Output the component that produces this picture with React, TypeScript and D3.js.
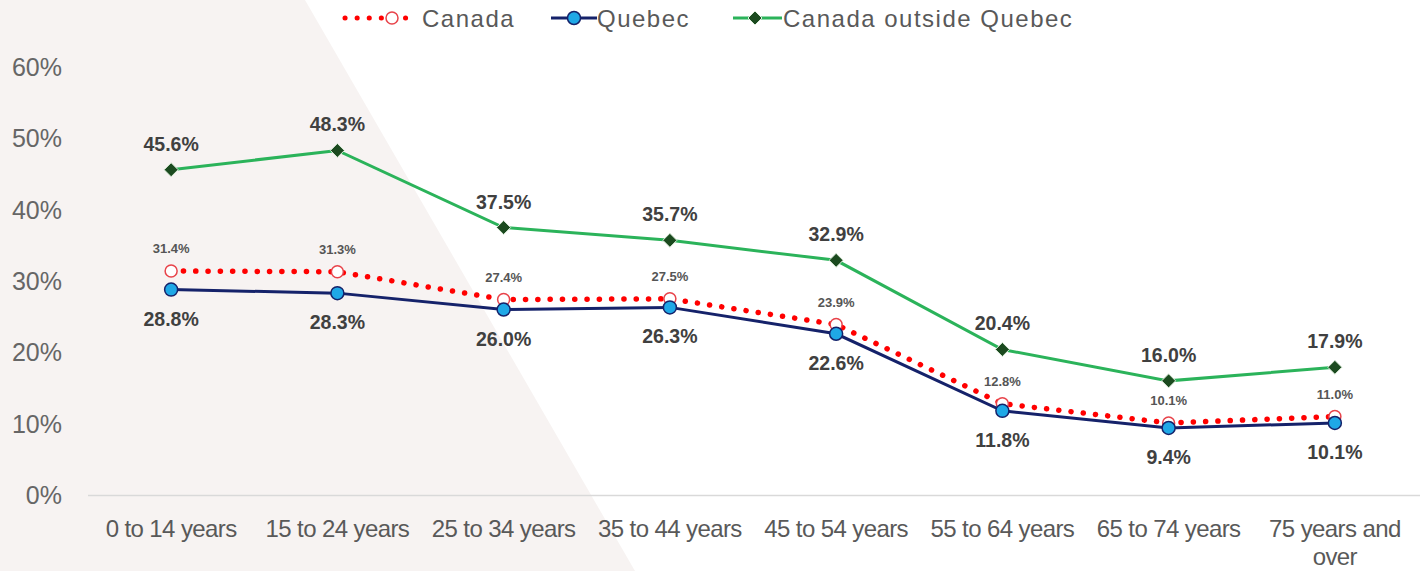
import React from "react";
import * as d3 from "d3";

const categories = [
  "0 to 14 years",
  "15 to 24 years",
  "25 to 34 years",
  "35 to 44 years",
  "45 to 54 years",
  "55 to 64 years",
  "65 to 74 years",
  "75 years and over",
];
const canada = [31.4, 31.3, 27.4, 27.5, 23.9, 12.8, 10.1, 11.0];
const quebec = [28.8, 28.3, 26.0, 26.3, 22.6, 11.8, 9.4, 10.1];
const outsideQuebec = [45.6, 48.3, 37.5, 35.7, 32.9, 20.4, 16.0, 17.9];
const yTicks = [0, 10, 20, 30, 40, 50, 60];

const W = 1422;
const H = 571;

export default function App() {
  const x = d3.scaleBand<string>().domain(categories).range([88, 1418]);
  const cx = (c: string) => (x(c) as number) + x.bandwidth() / 2;
  const y = d3.scaleLinear().domain([0, 60]).range([495, 67]);

  const line = (vals: number[]) =>
    d3
      .line<number>()
      .x((_, i) => cx(categories[i]))
      .y((v) => y(v))(vals) as string;

  const fmt = (v: number) => v.toFixed(1) + "%";
  const diamond = (px: number, py: number, s: number) =>
    `M${px},${py - s}L${px + s},${py}L${px},${py + s}L${px - s},${py}Z`;

  const font = "'Liberation Sans', Arial, Helvetica, sans-serif";

  return (
    <>
      <style>{`body{margin:0}`}</style>
      <svg width={W} height={H} style={{ display: "block" }} fontFamily={font}>
        <rect x={0} y={0} width={W} height={H} fill="#ffffff" />
        <polygon points={`0,0 305,0 635,${H} 0,${H}`} fill="#f7f3f2" />

        {/* legend */}
        <g>
          <line x1={345} x2={412} y1={18} y2={18} stroke="#ff0000" strokeWidth={5} strokeLinecap="round" strokeDasharray="0.1 12" />
          <circle cx={392} cy={18} r={6} fill="#ffffff" stroke="#e8434a" strokeWidth={1.5} />
          <text x={422} y={26.5} fontSize={24} letterSpacing={1.5} fill="#595959">Canada</text>

          <line x1={551} x2={597} y1={18} y2={18} stroke="#15226a" strokeWidth={3} />
          <circle cx={574} cy={18} r={6.5} fill="#1fa8e6" stroke="#15226a" strokeWidth={1.5} />
          <text x={597} y={26.5} fontSize={24} letterSpacing={1.5} fill="#595959">Quebec</text>

          <line x1={733} x2={782} y1={18} y2={18} stroke="#2bb35a" strokeWidth={3} />
          <path d={diamond(755, 18, 7)} fill="#1b4a1f" stroke="#dfeedd" strokeWidth={1} />
          <text x={783} y={26.5} fontSize={24} letterSpacing={1.5} fill="#595959">Canada outside Quebec</text>
        </g>

        {/* y axis labels */}
        {yTicks.map((t) => (
          <text key={t} x={62} y={y(t) + 9} fontSize={25} textAnchor="end" fill="#666666">
            {t}%
          </text>
        ))}

        {/* x axis line */}
        <line x1={88} x2={1420} y1={495.5} y2={495.5} stroke="#d9d9d9" strokeWidth={1.5} />

        {/* x labels */}
        {categories.map((c) => {
          const parts = c === "75 years and over" ? ["75 years and", "over"] : [c];
          return (
            <text key={c} x={cx(c)} y={537} fontSize={24} letterSpacing={-0.6} textAnchor="middle" fill="#595959">
              {parts.map((p, i) => (
                <tspan key={i} x={cx(c)} dy={i === 0 ? 0 : 28}>
                  {p}
                </tspan>
              ))}
            </text>
          );
        })}

        {/* Canada dotted line */}
        <path d={line(canada)} fill="none" stroke="#ff0000" strokeWidth={5.5} strokeLinecap="round" strokeDasharray="0.1 12.2" />
        {canada.map((v, i) => (
          <circle key={i} cx={cx(categories[i])} cy={y(v)} r={6} fill="#ffffff" stroke="#e8434a" strokeWidth={1.5} />
        ))}

        {/* Quebec */}
        <path d={line(quebec)} fill="none" stroke="#15226a" strokeWidth={3} />
        {quebec.map((v, i) => (
          <circle key={i} cx={cx(categories[i])} cy={y(v)} r={6.5} fill="#1fa8e6" stroke="#15226a" strokeWidth={1.5} />
        ))}

        {/* Canada outside Quebec */}
        <path d={line(outsideQuebec)} fill="none" stroke="#2bb35a" strokeWidth={3} />
        {outsideQuebec.map((v, i) => (
          <path key={i} d={diamond(cx(categories[i]), y(v), 7)} fill="#1b4a1f" stroke="#dfeedd" strokeWidth={1} />
        ))}

        {/* data labels */}
        {outsideQuebec.map((v, i) => (
          <text key={"g" + i} x={cx(categories[i])} y={y(v) - 19} fontSize={19.5} fontWeight="bold" textAnchor="middle" fill="#404040">
            {fmt(v)}
          </text>
        ))}
        {quebec.map((v, i) => (
          <text key={"q" + i} x={cx(categories[i])} y={y(v) + 36} fontSize={19.5} fontWeight="bold" textAnchor="middle" fill="#404040">
            {fmt(v)}
          </text>
        ))}
        {canada.map((v, i) => (
          <text key={"c" + i} x={cx(categories[i])} y={y(v) - 18} fontSize={13} fontWeight="bold" textAnchor="middle" fill="#555555">
            {fmt(v)}
          </text>
        ))}
      </svg>
    </>
  );
}
